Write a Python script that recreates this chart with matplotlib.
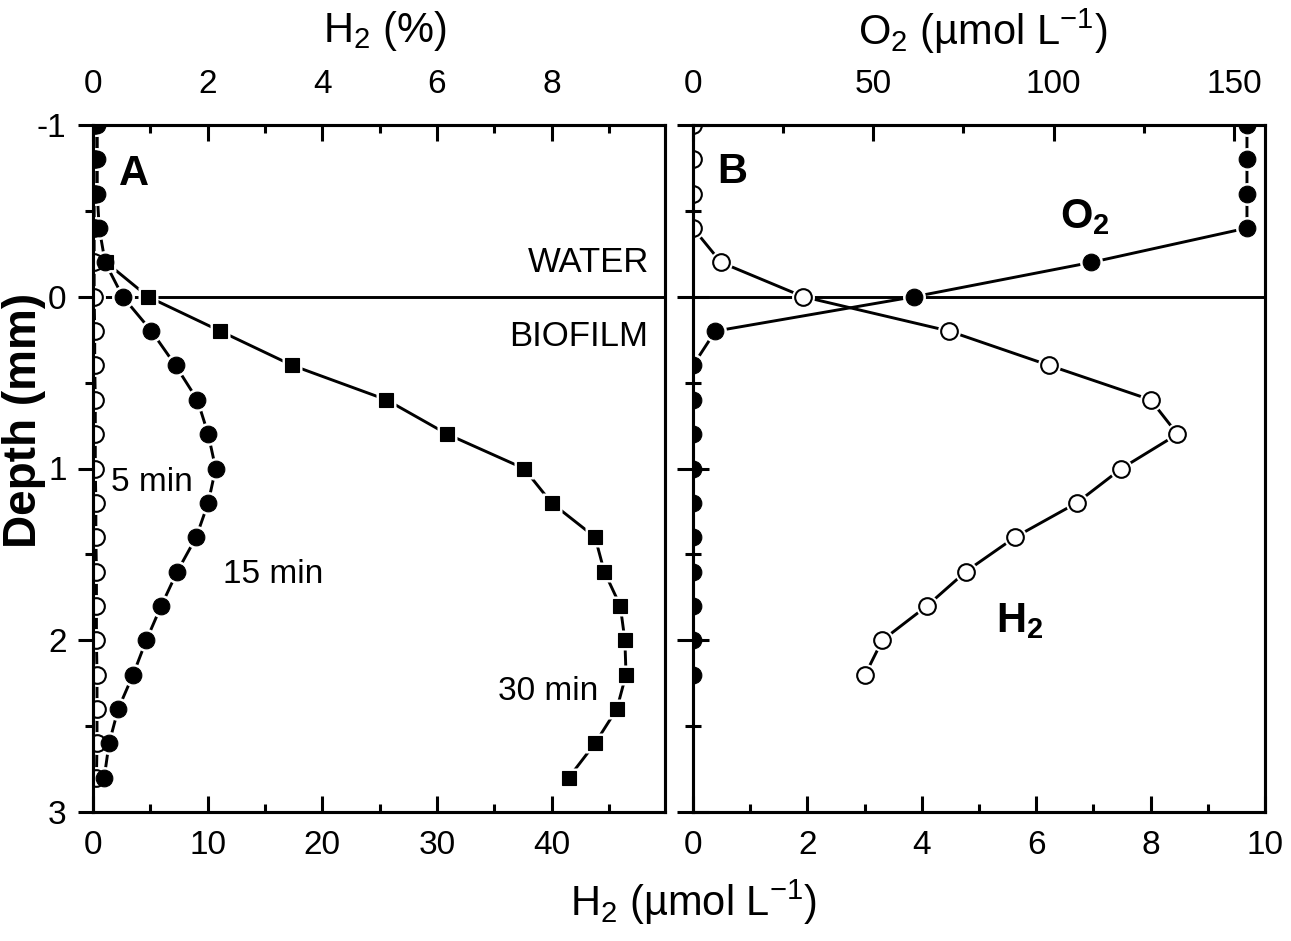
import matplotlib
matplotlib.use('Agg')
import matplotlib.pyplot as plt
import matplotlib.ticker as mt

plt.rcParams['font.family'] = ['Liberation Sans', 'DejaVu Sans']
plt.rcParams['mathtext.fontset'] = 'custom'
plt.rcParams['mathtext.rm'] = 'Liberation Sans'
plt.rcParams['mathtext.it'] = 'Liberation Sans:italic'
plt.rcParams['mathtext.bf'] = 'Liberation Sans:bold'
plt.rcParams['axes.unicode_minus'] = False

# Panel A: H2 depth profiles after 5, 15 and 30 min (umol/L)
depth_a = [-1.0, -0.8, -0.6, -0.4, -0.2, 0.0, 0.2, 0.4, 0.6, 0.8,
           1.0, 1.2, 1.4, 1.6, 1.8, 2.0, 2.2, 2.4, 2.6, 2.8]
h2_5min = [0.1, 0.1, 0.1, 0.1, 0.1, 0.1, 0.15, 0.15, 0.2, 0.2,
           0.2, 0.25, 0.25, 0.3, 0.3, 0.3, 0.35, 0.35, 0.35, 0.3]
h2_15min = [0.37, 0.37, 0.37, 0.54, 1.06, 2.6, 5.1, 7.2, 9.1, 10.05,
            10.7, 10.05, 9.0, 7.35, 5.95, 4.65, 3.5, 2.2, 1.4, 0.98]
depth_30 = [-0.2, 0.0, 0.2, 0.4, 0.6, 0.8, 1.0, 1.2,
            1.4, 1.6, 1.8, 2.0, 2.2, 2.4, 2.6, 2.8]
h2_30min = [1.15, 4.8, 11.1, 17.4, 25.6, 30.9, 37.6, 40.0,
            43.8, 44.6, 46.0, 46.4, 46.5, 45.7, 43.8, 41.5]

# Panel B: O2 and H2 profiles
depth_b = [-1.0, -0.8, -0.6, -0.4, -0.2, 0.0, 0.2, 0.4, 0.6,
           0.8, 1.0, 1.2, 1.4, 1.6, 1.8, 2.0, 2.2]
o2_b = [153.6, 153.6, 153.6, 153.6, 110.4, 61.3, 6.2, 0, 0,
        0, 0, 0, 0, 0, 0, 0, 0]
h2_b = [0, 0, 0, 0, 0.49, 1.93, 4.48, 6.23, 8.0,
        8.47, 7.49, 6.71, 5.63, 4.77, 4.09, 3.31, 3.01]

LW = 2.1
GAP = 4.5  # white gap round the symbols, like Origin


def profile(ax, x, y, marker, ms, face):
    ax.plot(x, y, '-', color='black', lw=LW, zorder=2.0)
    ax.plot(x, y, ls='none', marker=marker, ms=ms + GAP, mfc='white',
            mec='none', zorder=2.1)
    ax.plot(x, y, ls='none', marker=marker, ms=ms, mfc=face, mec='black',
            mew=1.5 if face == 'white' else 0.8, zorder=2.2)


fig = plt.figure(figsize=(12.91, 9.41), dpi=100)
axA = fig.add_axes([93 / 1291, 1 - 812 / 941, 572 / 1291, 687 / 941])
axB = fig.add_axes([693 / 1291, 1 - 812 / 941, 572 / 1291, 687 / 941])

axA.set_xlim(0, 49.9)
axA.set_ylim(3, -1)
axB.set_xlim(0, 10)
axB.set_ylim(3, -1)
topA = axA.twiny()
topA.set_xlim(0, 9.98)
topB = axB.twiny()
topB.set_xlim(0, 158.6)

for a in (axA, axB):
    a.axhline(0, color='black', lw=LW, zorder=1.9)

profile(axA, h2_5min, depth_a, 'o', 12, 'white')
profile(axA, h2_15min, depth_a, 'o', 12, 'black')
profile(axA, h2_30min, depth_30, 's', 10.5, 'black')
profile(axB, h2_b, depth_b, 'o', 12, 'white')
profile(topB, o2_b, depth_b, 'o', 12, 'black')

# ticks and spines
for a in (axA, axB, topA, topB):
    a.set_axisbelow(False)
    for s in a.spines.values():
        s.set_linewidth(2.2)

axA.xaxis.set_major_locator(mt.MultipleLocator(10))
axA.xaxis.set_minor_locator(mt.MultipleLocator(5))
axB.xaxis.set_major_locator(mt.MultipleLocator(2))
axB.xaxis.set_minor_locator(mt.MultipleLocator(1))
topA.xaxis.set_major_locator(mt.MultipleLocator(2))
topA.xaxis.set_minor_locator(mt.MultipleLocator(1))
topB.xaxis.set_major_locator(mt.MultipleLocator(50))
topB.xaxis.set_minor_locator(mt.MultipleLocator(25))
axA.yaxis.set_major_locator(mt.MultipleLocator(1))
axA.yaxis.set_minor_locator(mt.MultipleLocator(0.5))
axB.yaxis.set_major_locator(mt.MultipleLocator(1))
axB.yaxis.set_minor_locator(mt.MultipleLocator(0.5))

for a in (axA, axB):
    a.tick_params(axis='x', which='both', direction='in', width=2.2,
                  labelsize=24, pad=13)
    a.tick_params(axis='x', which='major', length=11.5)
    a.tick_params(axis='x', which='minor', length=6)
for a in (topA, topB):
    a.tick_params(axis='x', which='both', direction='in', width=2.2,
                  labelsize=24, pad=18)
    a.tick_params(axis='x', which='major', length=11.5)
    a.tick_params(axis='x', which='minor', length=6)

axA.tick_params(axis='y', which='both', direction='out', width=2.2,
                labelsize=24, pad=8, right=False)
axA.tick_params(axis='y', which='major', length=11)
axA.tick_params(axis='y', which='minor', length=6)

# panel B depth ticks sit on the twin so they stay above the O2 symbols
axB.tick_params(axis='y', which='both', left=False, right=False,
                labelleft=False)
topB.yaxis.set_visible(True)
topB.tick_params(axis='y', which='both', direction='inout', width=2.2,
                 left=True, right=False, labelleft=False, labelright=False)
topB.tick_params(axis='y', which='major', length=23)
topB.tick_params(axis='y', which='minor', length=11.5)

# axis titles
fig.text(385 / 1291, 1 - 31 / 941, r'H$_2$ (%)', ha='center', va='center',
         fontsize=30)
fig.text(983 / 1291, 1 - 31 / 941, r'O$_2$ (µmol L$^{-1}$)', ha='center',
         va='center', fontsize=30)
fig.text(694 / 1291, 1 - 902 / 941, r'H$_2$ (µmol L$^{-1}$)', ha='center',
         va='center', fontsize=30)
fig.text(24 / 1291, 1 - 420 / 941, 'Depth (mm)', rotation=90, ha='center',
         va='center', fontsize=33, fontweight='bold')

# annotations
axA.text(2.29, -0.65, 'A', fontsize=30, fontweight='bold', ha='left',
         va='baseline')
axA.text(48.5, -0.197, 'WATER', fontsize=25, ha='right', va='center')
axA.text(48.4, 0.23, 'BIOFILM', fontsize=25, ha='right', va='center')
axA.text(5.17, 1.08, '5 min', fontsize=24, ha='center', va='center')
axA.text(15.7, 1.62, '15 min', fontsize=24, ha='center', va='center')
axA.text(39.7, 2.30, '30 min', fontsize=24, ha='center', va='center')

axB.text(0.42, -0.66, 'B', fontsize=30, fontweight='bold', ha='left',
         va='baseline')
axB.text(6.42, -0.40, r'O$_\mathbf{2}$', fontsize=30, fontweight='bold',
         ha='left', va='baseline')
axB.text(5.30, 1.95, r'H$_\mathbf{2}$', fontsize=30, fontweight='bold',
         ha='left', va='baseline')

plt.savefig('out.png', dpi=100)
